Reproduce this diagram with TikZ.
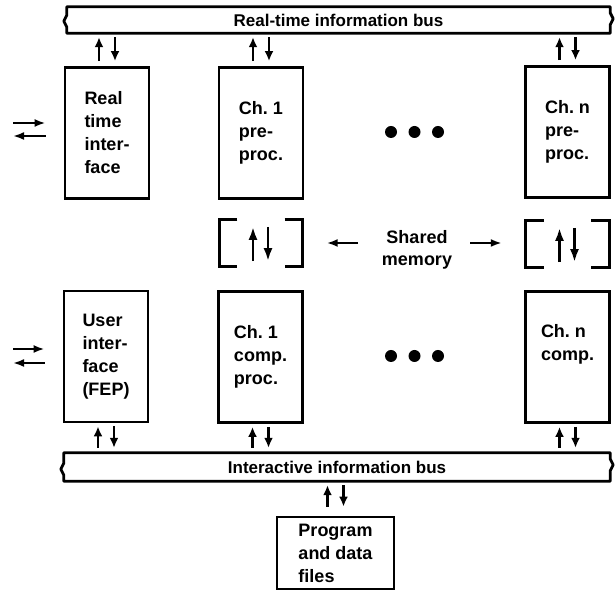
\documentclass[tikz,border=0pt]{standalone}
\usepackage{fontspec}
\setmainfont{Liberation Sans}
\frenchspacing
\usetikzlibrary{arrows.meta}
\begin{document}
\begin{tikzpicture}[x=1pt,y=1pt,
  box/.style={draw, line width=2.8pt, minimum width=84pt, minimum height=131pt,
    align=left, inner xsep=4pt, font=\bfseries\fontsize{18}{23}\selectfont},
  bus/.style={draw=none, minimum width=543pt, minimum height=26pt, inner sep=0pt,
    font=\bfseries\fontsize{17}{20}\selectfont},
  busline/.style={line width=2.8pt, line join=round},
  bracket/.style={line width=2.8pt},
  varr/.style={line width=2.8pt, -{Latex[length=10pt,width=9pt]}},
  harr/.style={line width=2.8pt, -{Latex[length=11pt,width=8pt]}},
  smarr/.style={line width=2.8pt, -{Latex[length=13pt,width=9pt]}},
  smgroup/.style={draw=none, minimum width=83pt, minimum height=46pt, inner sep=0pt},
  dotnode/.style={circle, fill=black, minimum size=12pt, inner sep=0pt},
  lbl/.style={align=center, font=\bfseries\fontsize{18}{22}\selectfont}
]
\useasboundingbox (0,0) rectangle (616,591);

% buses
\node[bus] (tbus) at (338.5,571) {Real-time information bus};
\node[bus, minimum width=546pt, minimum height=28pt] (ibus) at (337,124) {Interactive information bus};
\foreach \b in {tbus,ibus}{
  \draw[busline] (\b.north west) -- (\b.north east) -- ++(0,-6)
    to[out=-90,in=90] ++(3,-6) to[out=-90,in=90] ++(-3,-6) -- (\b.south east)
    -- (\b.south west) -- ++(0,6)
    to[out=90,in=-90] ++(-3,6) to[out=90,in=-90] ++(3,6) -- cycle;
}

% upper boxes
\node[box] (rti) at (107,458) {Real\\time\\inter-\\face};
\node[box] (ch1p) at (261,458) {Ch. 1\\pre-\\proc.};
\node[box] (chnp) at (567.5,459) {Ch. n\\pre-\\proc.};

% lower boxes
\node[box] (ui) at (106,234.5) {User\\inter-\\face\\(FEP)};
\node[box] (ch1c) at (260.5,234) {Ch. 1\\comp.\\proc.};
\node[box] (chnc) at (567.5,234) {Ch. n\\comp.\\\strut};

% program box
\node[box, minimum width=117pt, minimum height=72pt] (prog) at (335.5,38) {Program\\and data\\files};

% dots
\node[dotnode] (d1) at (391,459) {};
\node[dotnode] (d2) at (414.5,459) {};
\node[dotnode] (d3) at (438,459) {};
\node[dotnode] (d4) at (391,235) {};
\node[dotnode] (d5) at (414.5,235) {};
\node[dotnode] (d6) at (438,235) {};

% arrows: upper boxes <-> real-time bus
\foreach \b in {rti,ch1p,chnp}{
  \draw[varr, shorten <=5pt, shorten >=4pt] ([xshift=-8pt]\b.north) -- ([xshift=-8pt]\b.north |- tbus.south);
  \draw[varr, shorten <=4pt, shorten >=5pt] ([xshift=8pt]\b.north |- tbus.south) -- ([xshift=8pt]\b.north);
}
% arrows: lower boxes <-> interactive bus
\foreach \b in {ui,ch1c,chnc}{
  \draw[varr, shorten <=5pt, shorten >=3pt] ([xshift=-8pt]\b.south |- ibus.north) -- ([xshift=-8pt]\b.south);
  \draw[varr, shorten <=3pt, shorten >=5pt] ([xshift=8pt]\b.south) -- ([xshift=8pt]\b.south |- ibus.north);
}
% program files <-> interactive bus
\draw[varr, shorten <=9pt, shorten >=4pt] ([xshift=-8pt]prog.north) -- ([xshift=-8pt]prog.north |- ibus.south);
\draw[varr, shorten <=4pt, shorten >=9pt] ([xshift=8pt]prog.north |- ibus.south) -- ([xshift=8pt]prog.north);

% external arrows
\coordinate (rtiA) at (13,468);
\coordinate (rtiB) at (13,455);
\coordinate (uiA) at (13,242);
\coordinate (uiB) at (13,228);
\draw[harr, shorten >=18pt] (rtiA) -- (rtiA -| rti.west);
\draw[harr, shorten <=18pt] (rtiB -| rti.west) -- (rtiB);
\draw[harr, shorten >=18pt] (uiA) -- (uiA -| ui.west);
\draw[harr, shorten <=18pt] (uiB -| ui.west) -- (uiB);

% shared memory
\node[smgroup] (sm1) at (261,348) {};
\node[smgroup] (smn) at (567.5,347) {};
\foreach \s in {sm1,smn}{
  \draw[bracket] ([xshift=18pt]\s.north west) -- (\s.north west) -- (\s.south west) -- ++(18,0);
  \draw[bracket] ([xshift=-18pt]\s.north east) -- (\s.north east) -- (\s.south east) -- ++(-18,0);
  \draw[smarr, shorten <=5pt, shorten >=7pt] ([xshift=-8pt]\s.south) -- ([xshift=-8pt]\s.north);
  \draw[smarr, shorten <=7pt, shorten >=5pt] ([xshift=7pt]\s.north) -- ([xshift=7pt]\s.south);
}
\node[lbl] (smtext) at (417,341) {Shared\\memory};
\coordinate (smL) at (358,348);
\coordinate (smR) at (470,348);
\draw[harr, shorten >=24pt] (smL) -- (sm1.east);
\draw[harr, shorten >=24pt] (smR) -- (smR -| smn.west);
\end{tikzpicture}
\end{document}
